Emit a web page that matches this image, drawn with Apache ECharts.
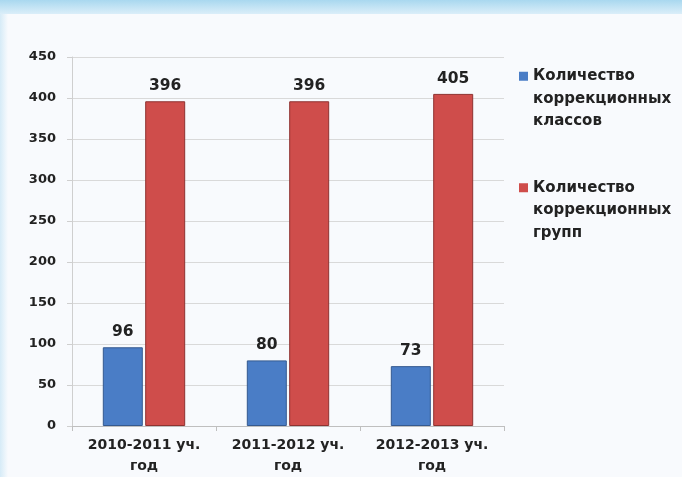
<!DOCTYPE html>
<html><head><meta charset="utf-8">
<script src="https://cdn.jsdelivr.net/npm/echarts@6/dist/echarts.min.js"></script>
<style>html,body{margin:0;padding:0;background:#f8fafd}#c{width:682px;height:477px}</style>
</head><body><div id="c"></div>
<script>
var categories = ['2010-2011 уч.\nгод', '2011-2012 уч.\nгод', '2012-2013 уч.\nгод'];
var seriesNames = ['Количество\nкоррекционных\nклассов', 'Количество\nкоррекционных\nгрупп'];
var classes = [96, 80, 73];
var groups = [396, 396, 405];
var yTicks = {min: 0, max: 450, interval: 50};

var chart = echarts.init(document.getElementById('c'));
var font = 'DejaVu Sans, Verdana, sans-serif';
chart.setOption({
  backgroundColor: '#f8fafd',
  animation: false,
  graphic: [
    {type: 'rect', left: 0, top: 0, shape: {width: 682, height: 14}, z: -1,
      style: {fill: new echarts.graphic.LinearGradient(0, 0, 0, 1, [{offset: 0, color: '#a9d8ef'}, {offset: 1, color: '#dbeef9'}])}},
    {type: 'rect', left: 0, top: 14, shape: {width: 8, height: 463}, z: -1,
      style: {fill: new echarts.graphic.LinearGradient(0, 0, 1, 0, [{offset: 0, color: '#d6ebf7'}, {offset: 1, color: '#f8fafd'}])}}
  ],
  grid: {left: 72, right: 178, top: 57, bottom: 50, containLabel: false},
  legend: {
    orient: 'vertical', left: 519, top: 20, padding: 0, itemWidth: 9, itemHeight: 9, itemGap: -1,
    icon: 'rect',
    itemStyle: {borderWidth: 0},
    formatter: function (name) { return '\n\n' + name; },
    textStyle: {fontFamily: font, fontWeight: 'bold', fontSize: 15, color: '#222', lineHeight: 22.5},
    data: seriesNames
  },
  xAxis: {
    type: 'category', data: categories,
    axisLine: {show: true, lineStyle: {color: '#bfbfbf'}},
    axisTick: {show: true, length: 5, lineStyle: {color: '#bfbfbf'}},
    axisLabel: {interval: 0, hideOverlap: false, fontFamily: font, fontWeight: 'bold', fontSize: 14, color: '#222', lineHeight: 21, margin: 9}
  },
  yAxis: {
    type: 'value', min: yTicks.min, max: yTicks.max, interval: yTicks.interval,
    axisLine: {show: true, lineStyle: {color: '#cfcfcf'}},
    axisTick: {show: true, length: 5, lineStyle: {color: '#cfcfcf'}},
    splitLine: {lineStyle: {color: '#d9d9d9'}},
    axisLabel: {fontFamily: font, fontWeight: 'bold', fontSize: 13, color: '#222', margin: 16}
  },
  series: [
    {name: seriesNames[0], type: 'bar', data: classes, barWidth: 40, barGap: '6%',
      itemStyle: {color: '#4a7dc6', borderColor: '#34598f', borderWidth: 1},
      label: {show: true, position: 'top', distance: 7, fontFamily: font, fontWeight: 'bold', fontSize: 15.5, color: '#222'}},
    {name: seriesNames[1], type: 'bar', data: groups, barWidth: 40,
      itemStyle: {color: '#cf4d4b', borderColor: '#8e3230', borderWidth: 1},
      label: {show: true, position: 'top', distance: 7, fontFamily: font, fontWeight: 'bold', fontSize: 15.5, color: '#222'}}
  ]
});
</script></body></html>
